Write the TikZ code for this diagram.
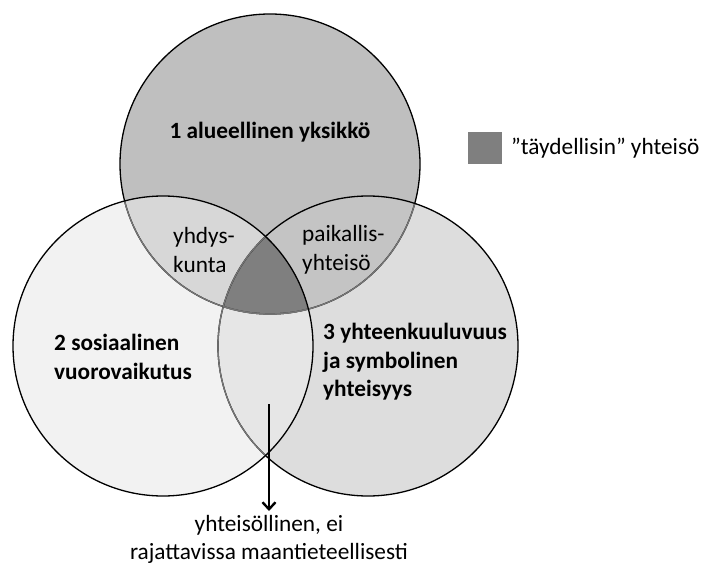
\documentclass[tikz,border=0pt]{standalone}
\usepackage{fontspec}
\setmainfont{Carlito}
\usetikzlibrary{arrows.meta}
\definecolor{ctop}{HTML}{BFBFBF}
\definecolor{cleft}{HTML}{F2F2F2}
\definecolor{cright}{HTML}{DDDDDD}
\definecolor{ctl}{HTML}{D7D7D7}
\definecolor{ctr}{HTML}{C4C4C4}
\definecolor{clr}{HTML}{E6E6E6}
\definecolor{call}{HTML}{7F7F7F}
\definecolor{cline}{HTML}{767676}
\begin{document}
\begin{tikzpicture}[x=1pt,y=-1pt,
  lbl/.style={font=\fontsize{23.3}{28.5}\selectfont, align=left, inner sep=0pt},
  blbl/.style={font=\fontsize{23.3}{28.5}\selectfont\bfseries, align=left, inner sep=0pt},
  outl/.style={line width=1.3pt, draw=black},
  outg/.style={line width=1.3pt, draw=cline}]
\useasboundingbox (0,0) rectangle (704,569);
\coordinate (ct) at (270,164);
\coordinate (cl) at (163,346);
\coordinate (cr) at (368,346);
\def\R{150pt}
% base fills
\fill[ctop] (ct) circle[radius=\R];
\fill[cleft] (cl) circle[radius=\R];
\fill[cright] (cr) circle[radius=\R];
\begin{scope}
  \clip (ct) circle[radius=\R];
  \fill[ctl] (cl) circle[radius=\R];
  \fill[ctr] (cr) circle[radius=\R];
\end{scope}
\begin{scope}
  \clip (cl) circle[radius=\R];
  \fill[clr] (cr) circle[radius=\R];
  \clip (ct) circle[radius=\R];
  \fill[call] (cr) circle[radius=\R];
\end{scope}
% outlines
\draw[outl] (ct) circle[radius=\R];
\begin{scope}
  \clip (cl) circle[radius=\R];
  \draw[outg] (ct) circle[radius=\R];
\end{scope}
\begin{scope}
  \clip (cr) circle[radius=\R];
  \draw[outg] (ct) circle[radius=\R];
\end{scope}
\draw[outl] (cr) circle[radius=\R];
\begin{scope}
  \clip (cl) circle[radius=\R];
  \draw[outg] (cr) circle[radius=\R];
\end{scope}
\draw[outl] (cl) circle[radius=\R];
% labels
\node[blbl] (t1) at (270,132) {1 alueellinen yksikkö};
\node[lbl, anchor=west] (t12) at (173,250) {yhdys-\\kunta};
\node[lbl, anchor=west] (t13) at (302,250) {paikallis-\\yhteisö};
\node[blbl, anchor=west] (t2) at (54,357) {2 sosiaalinen\\vuorovaikutus};
\node[blbl, anchor=west] (t3) at (323,362) {3 yhteenkuuluvuus\\ja symbolinen\\yhteisyys};
% legend
\node[fill=call, minimum width=34pt, minimum height=32pt, inner sep=0pt] (leg) at (485,148) {};
\node[lbl, anchor=west] (legt) at (511,148) {”täydellisin” yhteisö};
% arrow and bottom text
\coordinate (arS) at (269,404);
\coordinate (arE) at (269,511);
\draw[line width=2.4pt, -{Straight Barb[length=7pt,width=13pt,line width=2.4pt]}] (arS) -- (arE);
\node[lbl, align=center, anchor=north] (bt) at (269,515) {yhteisöllinen, ei\\rajattavissa maantieteellisesti};
\end{tikzpicture}
\end{document}
